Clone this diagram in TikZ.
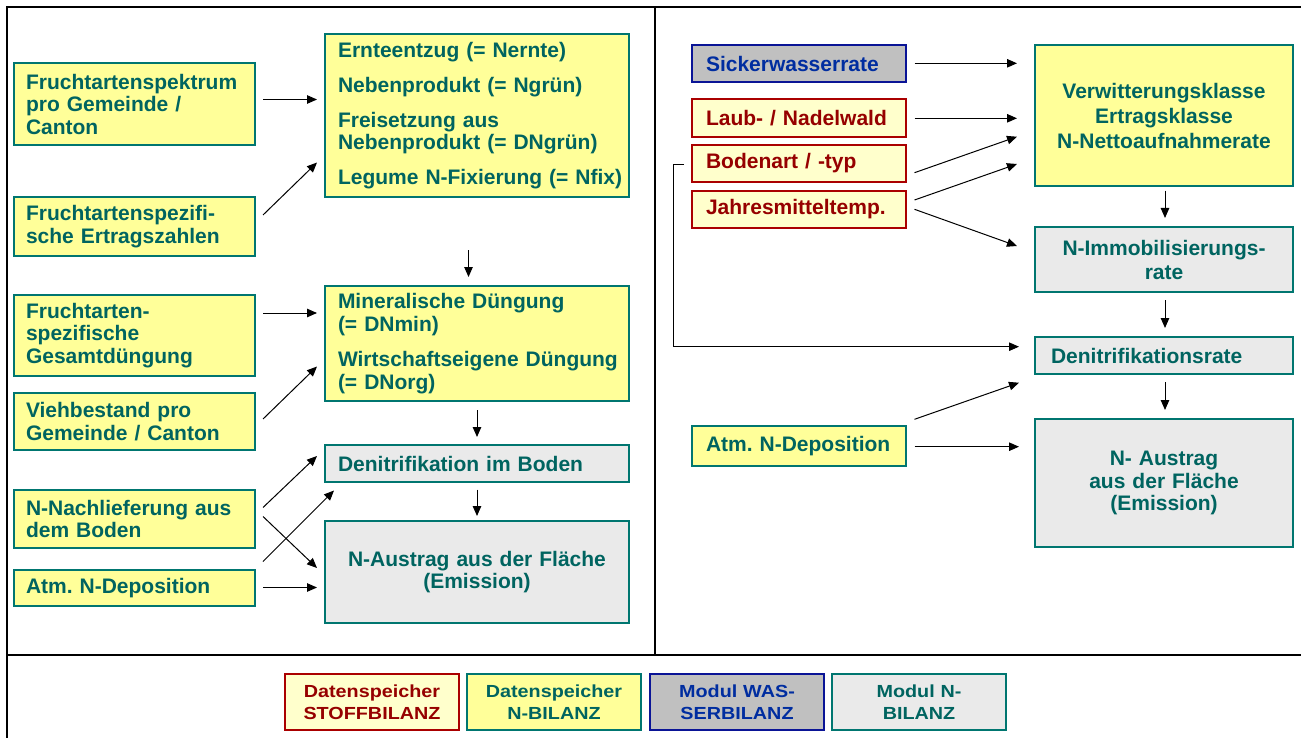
\documentclass[tikz,border=0pt]{standalone}
\usepackage{fontspec}
\setmainfont{Liberation Sans}
\newfontfamily\legfont[FakeStretch=1.13]{Liberation Sans}
\usetikzlibrary{arrows.meta,calc}

\definecolor{nteal}{RGB}{0,118,112}
\definecolor{ntext}{RGB}{0,100,96}
\definecolor{nyellow}{RGB}{255,255,153}
\definecolor{lyellow}{RGB}{255,255,204}
\definecolor{dred}{RGB}{170,0,0}
\definecolor{tred}{RGB}{150,0,0}
\definecolor{wgrey}{RGB}{192,192,192}
\definecolor{wblue}{RGB}{10,20,150}
\definecolor{tblue}{RGB}{0,45,160}
\definecolor{lgrey}{RGB}{234,234,234}

\tikzset{
  x=1pt, y=-1pt,
  every node/.style={outer sep=0pt},
  base/.style={rectangle, draw, line width=2.4pt, anchor=north west,
    inner ysep=0pt, inner xsep=0pt,
    font=\bfseries\fontsize{21}{22.5}\selectfont,
    execute at begin node={\hyphenpenalty=10000\exhyphenpenalty=10000}},
  nbox/.style={base, fill=nyellow, draw=nteal, text=ntext},
  sbox/.style={base, fill=lyellow, draw=dred, text=tred},
  wbox/.style={base, fill=wgrey, draw=wblue, text=tblue},
  mbox/.style={base, fill=lgrey, draw=nteal, text=ntext},
  % left-aligned text with an indent #1 inside a box of width #2
  lefttext/.style 2 args={text width=#2, minimum width=#2, align=left,
    execute at begin node={\leftskip=#1\hyphenpenalty=10000\exhyphenpenalty=10000}},
  centertext/.style={text width=#1, minimum width=#1, align=center},
  legend/.style={text width=174pt, align=center,
    minimum width=174pt, minimum height=56pt,
    font=\bfseries\legfont\fontsize{17.5}{21.7}\selectfont},
  arr/.style={line width=1pt, -{Triangle[length=10pt,width=8.5pt]}},
  frame/.style={line width=2pt, black}
}

\begin{document}
\frenchspacing
\begin{tikzpicture}
\useasboundingbox (0,0) rectangle (1301,738);

% outer frame and panel dividers
\draw[frame] (1301,7.5) -- (7,7.5) -- (7,738);
\draw[frame] (7,654.7) -- (1301,654.7);
\draw[line width=1.5pt] (655,7.5) -- (655,654.7);

% ---------- left panel: inputs ----------
\node[nbox, lefttext={12pt}{241pt}, minimum height=82pt] (fs) at (14,63)
  {Fruchtartenspektrum\\pro Gemeinde /\\Canton};
\node[nbox, lefttext={12pt}{241pt}, minimum height=59pt] (fe) at (14,197)
  {Fruchtartenspezifi-\\sche Ertragszahlen};
\node[nbox, lefttext={12pt}{241pt}, minimum height=81pt] (fg) at (14,295)
  {Fruchtarten-\\spezifische\\Gesamtdüngung};
\node[nbox, lefttext={12pt}{241pt}, minimum height=57pt] (vb) at (14,393)
  {Viehbestand pro\\Gemeinde / Canton};
\node[nbox, lefttext={12pt}{241pt}, minimum height=58pt] (nn) at (14,490)
  {N-Nachlieferung aus\\dem Boden};
\node[nbox, lefttext={12pt}{241pt}, minimum height=36pt] (ad) at (14,570)
  {Atm. N-Deposition};

% ---------- left panel: balance terms ----------
\node[nbox, lefttext={13pt}{304pt}, minimum height=163pt,
      font=\bfseries\fontsize{21}{22}\selectfont] (ern) at (325,34)
  {Ernteentzug (= Nernte)\\[13pt]
   Nebenprodukt (= Ngrün)\\[13pt]
   Freisetzung aus\\Nebenprodukt (= DNgrün)\\[13pt]
   Legume N-Fixierung (= Nfix)};
\node[nbox, lefttext={13pt}{304pt}, minimum height=115pt,
      font=\bfseries\fontsize{21}{23}\selectfont] (dng) at (325,286)
  {Mineralische Düngung\\(= DNmin)\\[12pt]
   Wirtschaftseigene Düngung\\(= DNorg)};
\node[mbox, lefttext={13pt}{304pt}, minimum height=37pt] (den) at (325,445)
  {Denitrifikation im Boden};
\node[mbox, centertext=304pt, minimum height=102pt,
      font=\bfseries\fontsize{21}{21.6}\selectfont] (aus) at (325,521)
  {N-Austrag aus der Fläche\\(Emission)};

\draw[arr] ($(fs.north east)+(8,36.5)$) -- ($(ern.north west)+(-8,65.5)$);
\draw[arr] ($(fe.north east)+(8,18)$) -- ($(ern.north west)+(-8,128.5)$);
\draw[arr] ($(ern.south west)+(143.5,53)$) -- ($(dng.north west)+(143.5,-9)$);
\draw[arr] ($(fg.north east)+(8,18)$) -- ($(dng.north west)+(-8,27)$);
\draw[arr] ($(vb.north east)+(8,26)$) -- ($(dng.north west)+(-8,80.5)$);
\draw[arr] ($(dng.south west)+(152,9)$) -- ($(den.north west)+(152,-8)$);
\draw[arr] ($(den.south west)+(152,7.5)$) -- ($(aus.north west)+(152,-5)$);
\draw[arr] ($(nn.north east)+(8,17.5)$) -- ($(den.north west)+(-8,11)$);
\draw[arr] ($(nn.north east)+(8,26.5)$) -- ($(aus.north west)+(-8,47)$);
\draw[arr] ($(ad.north east)+(8,-8.5)$) -- ($(den.south west)+(9,8.5)$);
\draw[arr] ($(ad.north east)+(8,17.5)$) -- ($(aus.north west)+(-8,66.5)$);

% ---------- right panel: inputs ----------
\node[wbox, lefttext={14pt}{214pt}, minimum height=37pt] (sw) at (692,45) {Sickerwasserrate};
\node[sbox, lefttext={14pt}{214pt}, minimum height=38pt] (lw) at (692,99) {Laub- / Nadelwald};
\node[sbox, lefttext={14pt}{214pt}, minimum height=37pt] (bo) at (692,145) {Bodenart / -typ};
\node[sbox, lefttext={14pt}{214pt}, minimum height=37pt] (jt) at (692,191) {Jahresmitteltemp.};
\node[nbox, lefttext={14pt}{214pt}, minimum height=40pt] (ad2) at (692,426) {Atm. N-Deposition};

% ---------- right panel: rates ----------
\node[nbox, centertext=258pt, minimum height=141pt,
      font=\bfseries\fontsize{21}{25}\selectfont] (vk) at (1035,45)
  {Verwitterungsklasse\\Ertragsklasse\\N-Nettoaufnahmerate};
\node[mbox, centertext=258pt, minimum height=65pt,
      font=\bfseries\fontsize{21}{24}\selectfont] (im) at (1035,227)
  {N-Immobilisierungs-\\rate};
\node[mbox, lefttext={16pt}{258pt}, minimum height=37pt] (dr) at (1035,337)
  {Denitrifikationsrate};
\node[mbox, centertext=258pt, minimum height=128pt,
      font=\bfseries\fontsize{21}{22.7}\selectfont] (au2) at (1035,419)
  {N- Austrag\\aus der Fläche\\(Emission)};

\draw[arr] ($(sw.north east)+(8.5,18.3)$) -- ($(vk.north west)+(-18,18.3)$);
\draw[arr] ($(lw.north east)+(8.5,19.3)$) -- ($(vk.north west)+(-18,73.3)$);
\draw[arr] ($(bo.north east)+(8.5,27.7)$) -- ($(vk.north west)+(-18,91.7)$);
\draw[arr] ($(jt.north east)+(8.5,9)$) -- ($(vk.north west)+(-18,119)$);
\draw[arr] ($(jt.north east)+(8.5,18.3)$) -- ($(im.north west)+(-18,19)$);
\draw[arr] ($(vk.south west)+(130,4.7)$) -- ($(im.north west)+(130,-9)$);
\draw[arr] ($(im.south west)+(130,8)$) -- ($(dr.north west)+(130,-9)$);
\draw[arr] ($(dr.south west)+(130,8.3)$) -- ($(au2.north west)+(130,-9)$);
\draw[arr, line width=0.9pt] ($(bo.north west)+(-8,19)$) -- ++(-10.3,0)
  |- ($(dr.north west)+(-16,9.7)$);
\draw[arr] ($(ad2.north east)+(8.5,-6.7)$) -- ($(dr.south west)+(-16,8.7)$);
\draw[arr] ($(ad2.north east)+(8.5,20.7)$) -- ($(au2.north west)+(-16,27.7)$);

% ---------- legend ----------
\node[sbox, legend] (lg1) at (285,674) {Datenspeicher\\STOFFBILANZ};
\node[nbox, legend] (lg2) at (467,674) {Datenspeicher\\N-BILANZ};
\node[wbox, legend] (lg3) at (650,674) {Modul WAS-\\SERBILANZ};
\node[mbox, legend] (lg4) at (832,674) {Modul N-\\BILANZ};
\end{tikzpicture}
\end{document}
